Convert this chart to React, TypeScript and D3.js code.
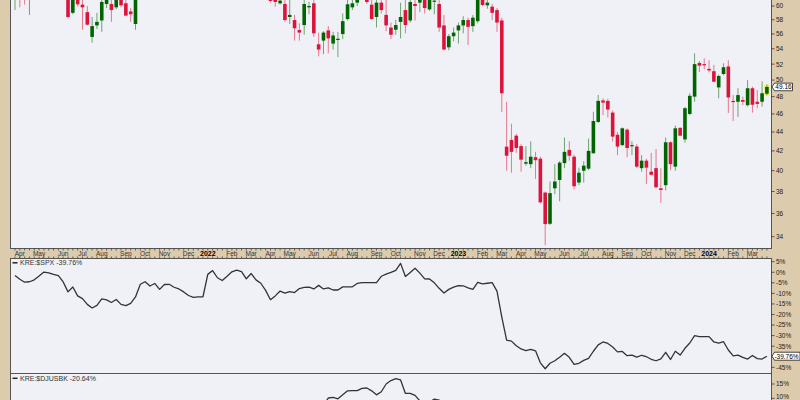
import React from "react";
import * as d3 from "d3";

const firstWeek = "2021-03-29";

const open = [
  62.0, 64.6, 63.2, 61.8, 63.5, 65.8, 68.5, 65.5, 66.8, 67.5,
  69.0, 66.5, 59.0, 62.8, 60.2, 59.1, 55.6, 57.2, 57.9, 60.3,
  60.3, 59.8, 62.0, 60.4, 59.2, 57.4, 62.0, 64.5, 66.5, 68.0,
  67.2, 65.5, 69.0, 68.0, 66.0, 64.0, 63.0, 66.0, 64.0, 65.0,
  66.0, 70.5, 71.5, 66.5, 66.0, 68.5, 69.5, 67.0, 65.5, 63.0,
  62.5, 66.0, 64.0, 62.5, 61.5, 60.4, 60.3, 58.4, 57.96, 56.55,
  57.25, 59.8, 60.4, 54.6, 55.1, 56.5, 54.7, 55.3, 56.0, 58.1,
  59.8, 60.5, 61.5, 62.5, 60.2, 58.4, 60.5, 58.7, 56.9, 56.6,
  57.7, 59.4, 57.9, 60.3, 60.5, 61.5, 59.5, 60.7, 60.3, 57.2,
  54.2, 55.7, 56.5, 57.2, 57.96, 57.1, 57.8, 61.5, 60.1, 59.9,
  59.4, 57.9, 42.44, 43.15, 43.6, 42.5, 40.7, 40.65, 41.35, 41.2,
  37.9, 35.1, 38.3, 39.1, 40.75, 42.1, 41.4, 38.85, 40.0, 40.2,
  41.75, 45.1, 47.55, 47.5, 46.15, 43.7, 42.6, 44.25, 42.55, 42.45,
  40.25, 41.0, 39.9, 40.25, 38.3, 38.6, 42.9, 40.4, 44.45, 43.2,
  46.0, 48.0, 52.15, 52.0, 51.4, 51.1, 49.1, 50.75, 51.7, 47.5,
  47.4, 47.6, 47.0, 49.0, 47.4, 47.4, 48.35,
];

const high = [
  65.5, 65.8, 64.5, 64.0, 66.5, 69.0, 69.5, 67.5, 68.5, 70.0,
  69.8, 67.0, 63.5, 63.5, 61.5, 60.0, 58.4, 59.0, 61.5, 61.8,
  61.2, 62.5, 62.8, 61.0, 59.7, 62.0, 65.0, 67.0, 68.5, 69.0,
  68.0, 69.5, 70.0, 68.5, 67.5, 65.5, 66.5, 66.8, 65.5, 66.5,
  71.0, 72.5, 72.0, 68.0, 69.0, 70.5, 70.0, 67.5, 66.0, 64.5,
  66.5, 66.5, 65.0, 63.0, 62.0, 62.0, 61.0, 61.5, 58.7, 57.5,
  60.9, 60.6, 61.2, 56.2, 56.4, 57.1, 56.3, 56.3, 58.9, 61.0,
  61.5, 62.5, 63.5, 63.0, 61.0, 61.0, 61.5, 61.0, 57.6, 58.0,
  60.5, 61.0, 61.2, 61.5, 62.0, 62.0, 62.5, 62.0, 61.5, 58.7,
  56.0, 56.9, 57.6, 58.5, 58.3, 58.7, 62.5, 62.3, 61.2, 60.3,
  59.7, 58.3, 47.4, 44.9, 43.8, 42.7, 42.5, 43.0, 41.9, 41.4,
  38.0, 38.95, 40.65, 40.95, 43.4, 43.0, 41.6, 40.3, 40.95, 43.3,
  46.25, 48.2, 47.8, 47.75, 46.4, 44.0, 44.5, 44.4, 43.0, 42.7,
  41.56, 41.2, 41.8, 42.2, 40.25, 43.4, 43.0, 44.7, 44.5, 46.8,
  48.4, 53.4, 52.4, 52.75, 52.5, 51.9, 50.7, 52.1, 52.5, 48.2,
  49.0, 48.0, 49.99, 49.2, 48.8, 49.85, 49.45,
];

const low = [
  59.4, 59.8, 60.2, 58.7, 62.5, 65.0, 64.0, 63.5, 65.5, 66.5,
  65.8, 58.2, 58.8, 59.9, 56.6, 57.2, 54.8, 56.7, 56.3, 59.7,
  57.7, 59.5, 59.8, 58.5, 57.7, 56.6, 61.5, 63.5, 65.8, 66.5,
  65.0, 65.0, 67.5, 65.5, 63.5, 62.0, 62.5, 63.5, 62.5, 64.5,
  65.5, 69.0, 66.0, 63.5, 65.0, 67.5, 66.5, 63.5, 61.8, 62.0,
  62.0, 63.5, 61.8, 60.5, 59.9, 60.2, 57.7, 57.4, 55.1, 55.1,
  55.9, 58.8, 55.6, 53.0, 53.3, 53.4, 53.9, 52.9, 55.3, 57.9,
  59.4, 60.0, 61.3, 60.3, 58.0, 56.9, 58.9, 56.4, 55.3, 55.9,
  55.4, 56.1, 57.6, 57.9, 59.1, 58.9, 59.3, 58.8, 56.3, 53.8,
  53.8, 55.0, 54.7, 56.1, 54.5, 56.3, 57.5, 60.0, 59.6, 57.96,
  56.3, 46.2, 40.0, 39.8, 41.8, 39.9, 40.5, 40.25, 39.2, 36.9,
  33.3, 35.0, 37.75, 37.1, 40.25, 41.0, 38.2, 38.6, 38.85, 40.05,
  41.75, 45.0, 45.86, 45.6, 42.97, 41.56, 42.5, 41.35, 41.56, 40.25,
  39.9, 38.7, 39.55, 38.3, 36.95, 38.1, 40.05, 40.0, 43.6, 42.85,
  45.86, 47.4, 51.0, 51.35, 50.95, 49.75, 47.8, 50.6, 46.1, 45.2,
  45.65, 47.0, 46.85, 46.15, 46.65, 46.85, 48.15,
];

const close = [
  64.5, 63.0, 62.0, 63.5, 65.8, 68.5, 65.5, 66.8, 67.5, 69.0,
  66.5, 58.4, 62.8, 60.25, 59.8, 57.3, 57.1, 57.7, 60.6, 60.9,
  59.4, 62.0, 60.1, 58.6, 58.8, 61.8, 64.5, 66.5, 68.0, 67.2,
  65.5, 69.0, 68.0, 66.0, 64.0, 63.0, 66.0, 64.0, 65.0, 66.0,
  70.5, 71.5, 66.5, 66.0, 68.5, 69.5, 67.0, 65.5, 63.0, 62.5,
  66.0, 64.0, 62.5, 60.75, 60.6, 60.8, 57.96, 58.7, 56.8, 56.2,
  60.3, 60.0, 56.1, 53.9, 56.2, 55.4, 55.8, 55.35, 57.8, 60.25,
  60.4, 61.5, 62.5, 60.6, 58.1, 60.5, 59.4, 57.2, 55.9, 57.25,
  58.4, 57.25, 60.6, 60.0, 61.2, 59.7, 61.5, 60.8, 56.9, 53.9,
  55.7, 56.2, 57.2, 57.96, 57.0, 58.3, 61.5, 60.15, 60.5, 59.0,
  57.6, 48.4, 41.5, 41.9, 42.3, 41.1, 40.85, 41.4, 41.05, 37.0,
  35.07, 37.85, 38.95, 40.8, 41.9, 41.5, 38.5, 39.8, 40.5, 42.0,
  45.2, 47.5, 47.3, 46.5, 43.5, 42.45, 44.4, 42.3, 42.6, 40.4,
  41.0, 40.3, 39.6, 38.4, 38.15, 42.9, 40.65, 44.4, 43.6, 46.65,
  48.1, 52.0, 51.8, 51.85, 51.2, 49.8, 50.5, 51.6, 47.9, 47.4,
  48.18, 47.4, 49.0, 47.05, 47.15, 48.4, 49.16,
];

const relSpx = [
  -1.5, -3.3, -4.7, -4.5, -3.6, -1.8, 0.1, -0.3, -1.0, -1.6,
  -4.6, -9.3, -7.0, -11.2, -12.5, -15.2, -16.9, -15.7, -12.6, -13.1,
  -14.3, -12.9, -15.2, -15.8, -14.7, -11.7, -5.7, -4.5, -6.5, -5.3,
  -8.1, -5.8, -5.7, -7.1, -7.9, -9.3, -11.0, -11.9, -11.7, -11.6,
  -1.0, 0.8, -2.6, -3.9, -1.9, 0.2, 1.0, 0.3, -3.1, -0.6,
  -3.6, -5.2, -8.6, -13.0, -11.2, -8.9, -9.9, -9.2, -9.6, -7.7,
  -7.2, -7.0, -7.9, -6.2, -7.9, -7.4, -8.4, -8.4, -6.9, -6.9,
  -6.9, -5.3, -4.9, -4.9, -4.9, -4.9, -1.9, -0.9, -0.1, 0.85,
  4.2, -2.0, -0.1, 1.9, -0.4, -3.1, -3.2, -5.0, -7.6, -9.8,
  -8.1, -7.0, -6.3, -6.4, -7.4, -8.1, -4.8, -5.5, -5.2, -4.9,
  -8.9, -21.2, -32.1, -32.6, -34.8, -36.3, -37.1, -36.5, -37.2, -42.9,
  -45.7, -43.1, -41.9, -40.2, -38.4, -40.3, -43.6, -43.1, -41.7, -40.8,
  -37.4, -34.4, -33.0, -33.7, -35.4, -37.7, -37.5, -39.5, -39.2, -40.2,
  -39.3, -40.0, -41.2, -41.9, -41.0, -37.9, -41.3, -37.4, -39.2, -36.0,
  -33.5, -30.0, -30.5, -30.5, -30.5, -33.0, -33.6, -32.9, -36.8, -39.6,
  -39.2, -40.3, -41.1, -39.4, -40.9, -41.1, -39.76,
];

const relBank = [
  0, -1.5, -2, -1, 0.5, 2, 1.5, 0, -1, 0.5,
  -2, -4, -3, -5, -6, -7, -6.5, -5, -3, -4,
  -5, -4, -6, -6.5, -5, -2, 1, 2, 0.5, 1.5,
  -0.5, 1, 0, -1.5, -2, -3, -4, -5, -4.5, -4,
  1, 3, 0, -1, 1.5, 3, 4, 3, 1, 2.5,
  0, -1, -2, -4, -2.5, 0, 1, 2, 3, 4,
  4.5, 5, 5.5, 6.5, 7.5, 10.1, 10.3, 9.8, 11.2, 12.6,
  12.7, 12.7, 13.5, 13.6, 12.6, 11.2, 12.3, 15.0, 16.2, 16.9,
  16.4, 11.7, 11.7, 11.0, 9.1, 8.0, 8.7, 9.7, 9.4, 7.3,
  7.5, 7, 6, 5.5, 6.5, 6, 5, 4.5, 5, 4,
  2, -12, -20, -21, -22, -23, -22.5, -23, -24, -28,
  -30, -27, -25, -23, -22, -23, -25, -24, -23, -22,
  -18, -15, -14, -15, -17, -18, -18, -20, -20, -21,
  -21, -21.5, -22, -23, -23, -20, -22, -19, -20, -18,
  -16, -14, -15, -15, -16, -17, -18, -18, -20, -21,
  -21, -22, -22.5, -21, -22, -21.5, -20.64,
];

const priceTicks = [34, 36, 38, 40, 42, 44, 46, 48, 50, 52, 54, 56, 58, 60];
const spxTicks = [5, 0, -5, -10, -15, -20, -25, -30, -35, -45];
const bankTicks = [15, 10];

const spxLabel = "KRE:$SPX -39.76%";
const bankLabel = "KRE:$DJUSBK -20.64%";

const TAN = "#dccbad";
const PANEL = "#f0f1f6";
const BORDER = "#555";
const UP = "#006400";
const DOWN = "#dc143c";
const FONT = "'Liberation Sans', Arial, sans-serif";

export default function App() {
  const W = 800;
  const H = 400;
  const left = 10.5;
  const right = 771.5;

  const start = d3.utcParse("%Y-%m-%d")(firstWeek) as Date;
  const weeks = d3.utcMonday.range(start, d3.utcDay.offset(start, open.length * 7));

  const x = d3.scaleUtc().domain([weeks[0], weeks[weeks.length - 1]]).range([15, 766.9]);
  const y = d3.scaleLog().domain([34, 60]).range([236.7, 6]);
  const ySpx = d3.scaleLinear().domain([-45, 5]).range([367.3, 261.7]);
  const yBank = d3.scaleLinear().domain([10, 15]).range([398.3, 384]);

  const months = d3.utcMonth.range(new Date(Date.UTC(2021, 3, 1)), new Date(Date.UTC(2024, 3, 1)));
  const monthTicks = months.map((m) => {
    const wk = d3.utcMonday.ceil(m);
    const isYear = m.getUTCMonth() === 0;
    return { x: x(wk), label: isYear ? d3.utcFormat("%Y")(m) : d3.utcFormat("%b")(m), isYear };
  });

  const spxLine = d3
    .line<number>()
    .x((_, i) => x(weeks[i]))
    .y((d) => ySpx(d));
  const bankLine = d3
    .line<number>()
    .x((_, i) => x(weeks[i]))
    .y((d) => yBank(d));

  const bodyW = 3.6;
  const last = open.length - 1;
  const lastX = x(weeks[last]);

  return (
    <svg
      width={W}
      height={H}
      style={{ position: "absolute", left: 0, top: 0, display: "block" }}
      fontFamily={FONT}
    >
      <defs>
        <clipPath id="mainClip">
          <rect x={left} y={-20} width={right - left} height={248.5 + 20} />
        </clipPath>
        <clipPath id="spxClip">
          <rect x={left} y={258.5} width={right - left} height={115} />
        </clipPath>
        <clipPath id="bankClip">
          <rect x={left} y={373.5} width={right - left} height={40} />
        </clipPath>
      </defs>
      <rect x={0} y={0} width={W} height={H} fill={TAN} />

      {/* main price panel */}
      <rect x={left} y={-10} width={right - left} height={258.5} fill={PANEL} stroke={BORDER} strokeWidth={1} />
      <g clipPath="url(#mainClip)">
        <rect
          x={lastX - 2.6}
          y={y(high[last])}
          width={5.2}
          height={y(low[last]) - y(high[last])}
          fill="#f3ec6a"
        />
        {open.map((o, i) => {
          const c = close[i];
          const up = c >= o;
          const col = up ? UP : DOWN;
          const cx = x(weeks[i]);
          const top = y(Math.max(o, c));
          const bot = y(Math.min(o, c));
          return (
            <g key={i}>
              <line x1={cx} x2={cx} y1={y(high[i])} y2={y(low[i])} stroke={col} strokeWidth={1} strokeOpacity={0.55} />
              <rect x={cx - bodyW / 2} y={top} width={bodyW} height={Math.max(1.2, bot - top)} fill={col} />
            </g>
          );
        })}
      </g>
      {priceTicks.map((t) => (
        <g key={t}>
          <line x1={right} x2={right + 3} y1={y(t)} y2={y(t)} stroke="#333" strokeWidth={0.8} />
          <text x={776} y={y(t) + 2.4} fontSize={6.5} fill="#222">
            {t}
          </text>
        </g>
      ))}
      <g>
        <path
          d={`M${right + 0.5},${y(close[last])} L${right + 3},${y(close[last]) - 3.8} L${right + 21},${y(close[last]) - 3.8} L${right + 21},${y(close[last]) + 3.8} L${right + 3},${y(close[last]) + 3.8} Z`}
          fill="#fff"
          stroke="#000"
          strokeWidth={0.7}
        />
        <text x={right + 12} y={y(close[last]) + 2.4} fontSize={6.5} textAnchor="middle" fill="#000">
          {close[last].toFixed(2)}
        </text>
      </g>

      {/* date axis band */}
      {weeks.map((w, i) => (
        <g key={"t" + i}>
          <line x1={x(w)} x2={x(w)} y1={248.5} y2={250.5} stroke="#444" strokeWidth={0.8} />
          <line x1={x(w)} x2={x(w)} y1={256.5} y2={258.5} stroke="#444" strokeWidth={0.8} />
        </g>
      ))}
      {monthTicks.map((m, i) => (
        <text
          key={"m" + i}
          x={m.x}
          y={256.3}
          fontSize={m.isYear ? 7 : 6.5}
          fontWeight={m.isYear ? "bold" : "normal"}
          textAnchor="middle"
          fill={m.isYear ? "#000" : "#333"}
        >
          {m.label}
        </text>
      ))}

      {/* relative to SPX panel */}
      <rect x={left} y={258.5} width={right - left} height={115} fill={PANEL} stroke={BORDER} strokeWidth={1} />
      <g clipPath="url(#spxClip)">
        <path d={spxLine(relSpx) || ""} fill="none" stroke="#333" strokeWidth={1.3} strokeLinejoin="round" />
      </g>
      <line x1={12.5} x2={17.5} y1={262.8} y2={262.8} stroke="#222" strokeWidth={1.5} />
      <text x={20} y={265.4} fontSize={7} fill="#333">
        {spxLabel}
      </text>
      {spxTicks.map((t) => (
        <g key={"s" + t}>
          <line x1={right} x2={right + 3} y1={ySpx(t)} y2={ySpx(t)} stroke="#333" strokeWidth={0.8} />
          <text x={776} y={ySpx(t) + 2.4} fontSize={6.5} fill="#222">
            {t + "%"}
          </text>
        </g>
      ))}
      <g>
        <path
          d={`M${right + 0.5},${ySpx(relSpx[last])} L${right + 3},${ySpx(relSpx[last]) - 4} L${W},${ySpx(relSpx[last]) - 4} L${W},${ySpx(relSpx[last]) + 4} L${right + 3},${ySpx(relSpx[last]) + 4} Z`}
          fill="#fff"
          stroke="#000"
          strokeWidth={0.7}
        />
        <text x={right + 15} y={ySpx(relSpx[last]) + 2.4} fontSize={6.5} textAnchor="middle" fill="#000">
          {relSpx[last].toFixed(2) + "%"}
        </text>
      </g>

      {/* relative to DJUSBK panel */}
      <rect x={left} y={373.5} width={right - left} height={40} fill={PANEL} stroke={BORDER} strokeWidth={1} />
      <g clipPath="url(#bankClip)">
        <path d={bankLine(relBank) || ""} fill="none" stroke="#333" strokeWidth={1.3} strokeLinejoin="round" />
      </g>
      <line x1={12.5} x2={17.5} y1={378.3} y2={378.3} stroke="#222" strokeWidth={1.5} />
      <text x={20} y={380.9} fontSize={7} fill="#333">
        {bankLabel}
      </text>
      {bankTicks.map((t) => (
        <g key={"b" + t}>
          <line x1={right} x2={right + 3} y1={yBank(t)} y2={yBank(t)} stroke="#333" strokeWidth={0.8} />
          <text x={776} y={Math.min(yBank(t) + 2.4, 399.2)} fontSize={6.5} fill="#222">
            {t + "%"}
          </text>
        </g>
      ))}
    </svg>
  );
}
